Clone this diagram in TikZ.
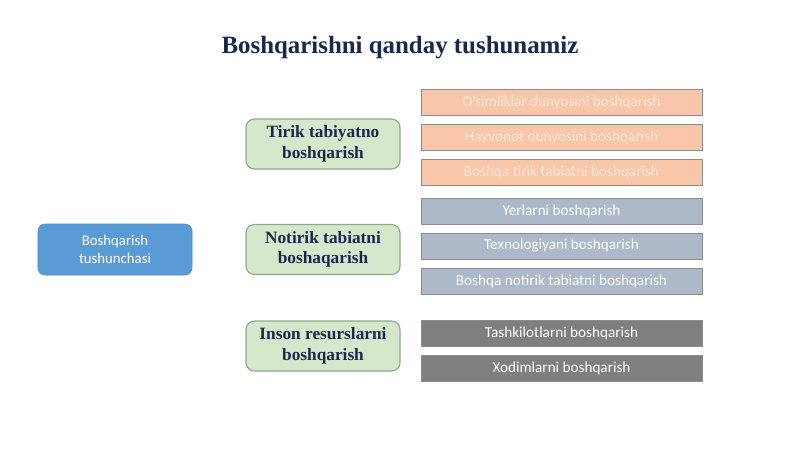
\documentclass[tikz,border=0pt]{standalone}
\usepackage{fontspec}
\setmainfont{Liberation Serif}
\setsansfont{Carlito}
\usepackage{xcolor}
\usetikzlibrary{positioning}

\definecolor{navytxt}{HTML}{1A2850}
\definecolor{rootblue}{HTML}{5B9BD5}
\definecolor{leafgreen}{HTML}{D6E8CB}
\definecolor{leafedge}{HTML}{8EA98A}
\definecolor{barpeach}{HTML}{F8C7AA}
\definecolor{barpeachtxt}{HTML}{FCE4D8}
\definecolor{barslate}{HTML}{ADB8C9}
\definecolor{bargray}{HTML}{7F7F7F}
\definecolor{baredge}{HTML}{8C8C8C}

\tikzset{
    rootbox/.style={rounded corners=5pt, fill=rootblue, draw=rootblue!90!black,
        minimum width=3.85cm, minimum height=1.275cm, align=center,
        text=white, font=\sffamily\fontsize{10.5}{13}\selectfont},
    groupbox/.style={rounded corners=6pt, fill=leafgreen, draw=leafedge, thick,
        minimum width=3.85cm, minimum height=1.25cm, align=center, inner sep=1pt,
        text=navytxt, font=\bfseries\fontsize{12.3}{14.5}\selectfont},
    itembar/.style={draw=baredge, minimum width=7.025cm, minimum height=0.65cm,
        inner sep=0pt, font=\sffamily\fontsize{10.8}{12}\selectfont},
    livebar/.style={itembar, fill=barpeach, text=barpeachtxt},
    deadbar/.style={itembar, fill=barslate, text=white},
    humanbar/.style={itembar, fill=bargray, text=white}
}

\begin{document}
\begin{tikzpicture}[x=0.025cm, y=-0.025cm]
    \useasboundingbox (0,0) rectangle (800,449);

    % title
    \node[text=navytxt, font=\bfseries\fontsize{17.7}{20}\selectfont] (title) at (400,48) {Boshqarishni qanday tushunamiz};

    % root
    \node[rootbox] (root) at (115,249.5) {Boshqarish\\tushunchasi};

    % groups
    \node[groupbox] (live) at (323,144) {Tirik tabiyatno\\boshqarish};
    \node[groupbox] (dead) at (323,249.5) {Notirik tabiatni\\boshaqarish};
    \node[groupbox] (human) at (323,346) {Inson resurslarni\\boshqarish};

    % items
    \node[livebar] (plants) at (561.5,102.5) {O'simliklar dunyosini boshqarish};
    \node[livebar] (animals) at (561.5,137.5) {Hayvonot dunyosini boshqarish};
    \node[livebar] (otherlive) at (561.5,172.5) {Boshqa tirik tabiatni boshqarish};

    \node[deadbar] (lands) at (561.5,211.5) {Yerlarni boshqarish};
    \node[deadbar] (tech) at (561.5,246) {Texnologiyani boshqarish};
    \node[deadbar] (otherdead) at (561.5,281) {Boshqa notirik tabiatni boshqarish};

    \node[humanbar] (orgs) at (561.5,333) {Tashkilotlarni boshqarish};
    \node[humanbar] (staff) at (561.5,368) {Xodimlarni boshqarish};
\end{tikzpicture}
\end{document}
